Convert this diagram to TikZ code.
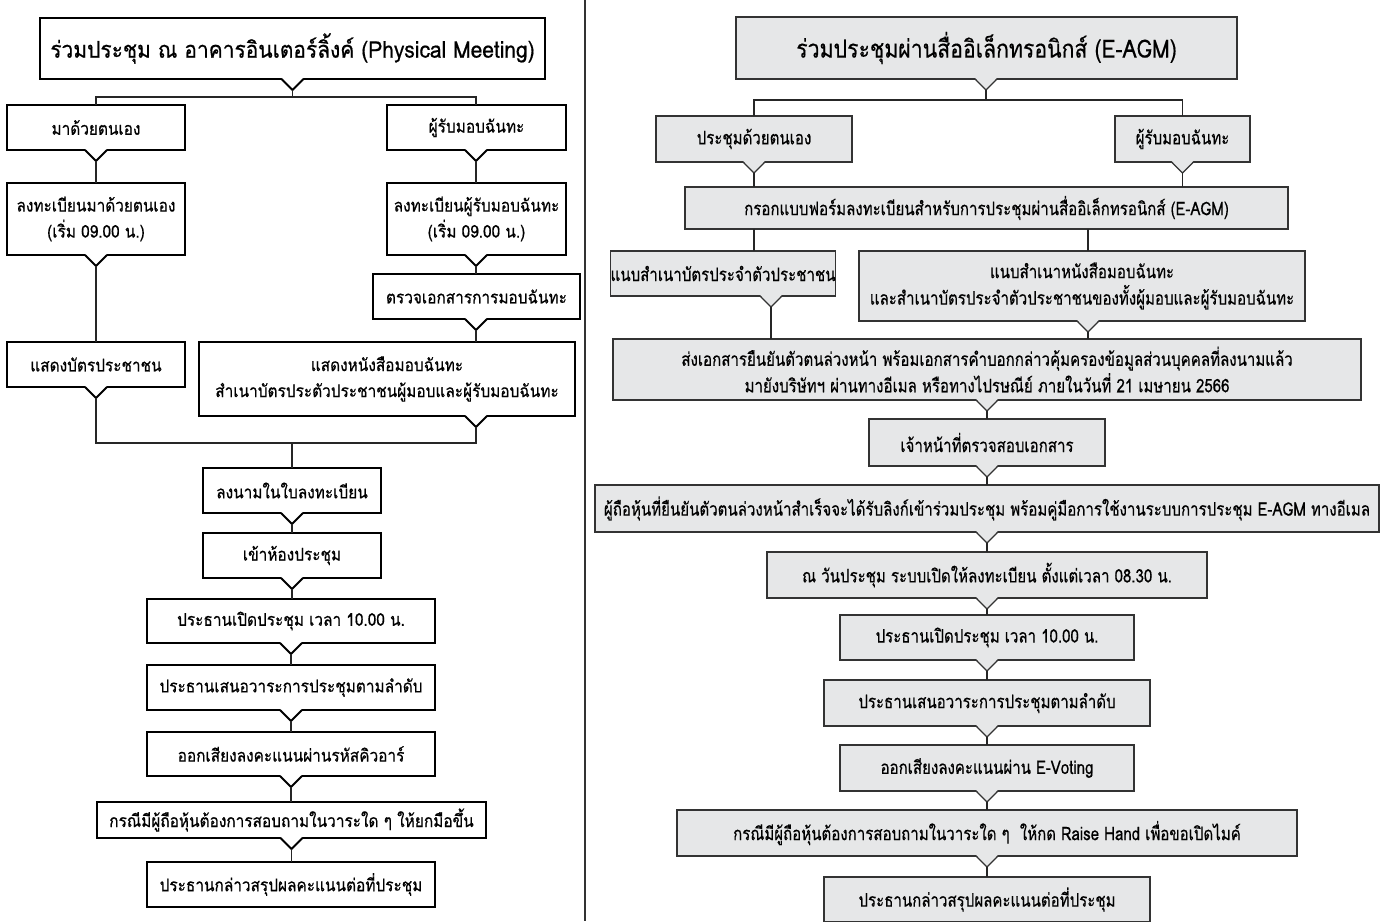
\documentclass[tikz,border=0pt]{standalone}
\usepackage{fontspec}
\newfontfamily\thaiL[Script=Thai,FakeStretch=0.88,FakeBold=0.6]{Loma}
\newfontfamily\thaiLT[Script=Thai,FakeStretch=0.91,FakeBold=0.6]{Loma}
\newfontfamily\thaiR[Script=Thai,FakeStretch=0.81,FakeBold=0.4]{Loma}
\newfontfamily\thaiRT[Script=Thai,FakeStretch=0.85,FakeBold=0.4]{Loma}
\definecolor{rfill}{HTML}{E6E7E8}
\definecolor{rline}{HTML}{333333}
\newcommand{\bx}[7]{\node[#2, minimum width={#5pt-#3pt}, minimum height={#6pt-#4pt}] (#1) at ({(#3+#5)/2},{(#4+#6)/2}) {#7};}
\newcommand{\notch}[4]{%
  \coordinate (#1-tip) at ([xshift=#2pt,yshift=-11pt]#1.south);
  \fill[#3] ([xshift=#2pt-11pt,yshift=1.2pt]#1.south) -- ([xshift=#2pt+11pt,yshift=1.2pt]#1.south) -- (#1-tip) -- cycle;
  \draw[#4] ([xshift=#2pt-11pt]#1.south) -- (#1-tip) -- ([xshift=#2pt+11pt]#1.south);}
\begin{document}
\begin{tikzpicture}[x=1pt,y=-1pt,
  lbox/.style={draw=black, fill=white, line width=1.8pt, inner sep=0pt, outer sep=0pt, align=center, font=\fontsize{17.5pt}{26pt}\selectfont\thaiL},
  ltitle/.style={lbox, font=\fontsize{23pt}{26pt}\selectfont\thaiLT},
  rbox/.style={draw=rline, fill=rfill, line width=1.3pt, inner sep=0pt, outer sep=0pt, align=center, font=\fontsize{18.6pt}{26.5pt}\selectfont\thaiR},
  rtitle/.style={rbox, font=\fontsize{25pt}{26pt}\selectfont\thaiRT},
  lnotch/.style={draw=black, line width=1.8pt, line join=miter},
  rnotch/.style={draw=rline, line width=1.3pt, line join=miter},
  lcon/.style={draw=black!85, line width=1.4pt},
  rcon/.style={draw=black!85, line width=1.8pt},
  divider/.style={draw=black!80, line width=1.4pt}]
\useasboundingbox (0,0) rectangle (1386,921);
\clip (0,0) rectangle (1386,921);
\fill[white] (0,0) rectangle (1386,921);
% divider
\coordinate (dtop) at (585,0);
\coordinate (dbot) at (585,921);
\draw[divider] (dtop) -- (dbot);

% ---------------- left column ----------------
\bx{lt}{ltitle}{40}{18}{545}{79}{ร่วมประชุม ณ อาคารอินเตอร์ลิ้งค์ (Physical Meeting)}
\bx{b1}{lbox}{7}{105}{185}{150}{มาด้วยตนเอง}
\bx{b2}{lbox}{387}{105}{566}{150}{ผู้รับมอบฉันทะ}
\bx{b3}{lbox}{7}{183}{185}{255}{ลงทะเบียนมาด้วยตนเอง\\(เริ่ม 09.00 น.)}
\bx{b4}{lbox}{387}{183}{566}{255}{ลงทะเบียนผู้รับมอบฉันทะ\\(เริ่ม 09.00 น.)}
\bx{b5}{lbox}{373}{274}{580}{319}{ตรวจเอกสารการมอบฉันทะ}
\bx{b6}{lbox}{7}{342}{185}{387}{แสดงบัตรประชาชน}
\bx{b7}{lbox}{199}{342}{575}{416}{แสดงหนังสือมอบฉันทะ\\สำเนาบัตรประตัวประชาชนผู้มอบและผู้รับมอบฉันทะ}
\bx{b8}{lbox}{203}{468}{381}{513}{ลงนามในใบลงทะเบียน}
\bx{b9}{lbox}{203}{533}{381}{578}{เข้าห้องประชุม}
\bx{b10}{lbox}{147}{599}{435}{643}{ประธานเปิดประชุม เวลา 10.00 น.}
\bx{b11}{lbox}{147}{665}{435}{710}{ประธานเสนอวาระการประชุมตามลำดับ}
\bx{b12}{lbox}{147}{732}{435}{776}{ออกเสียงลงคะแนนผ่านรหัสคิวอาร์}
\bx{b13}{lbox}{97}{802}{486}{838}{กรณีมีผู้ถือหุ้นต้องการสอบถามในวาระใด ๆ ให้ยกมือขึ้น}
\bx{b14}{lbox}{147}{862}{435}{907}{ประธานกล่าวสรุปผลคะแนนต่อที่ประชุม}

\notch{lt}{0}{white}{lnotch}
\notch{b1}{0}{white}{lnotch}
\notch{b2}{-0.5}{white}{lnotch}
\notch{b3}{0}{white}{lnotch}
\notch{b4}{-0.5}{white}{lnotch}
\notch{b5}{-0.5}{white}{lnotch}
\notch{b6}{0}{white}{lnotch}
\notch{b7}{89}{white}{lnotch}
\notch{b8}{0}{white}{lnotch}
\notch{b9}{0}{white}{lnotch}
\notch{b10}{0}{white}{lnotch}
\notch{b11}{0}{white}{lnotch}
\notch{b12}{0}{white}{lnotch}
\notch{b13}{0}{white}{lnotch}

\coordinate (jL) at (292.5,97);
\coordinate (mL) at (292,443);
\draw[lcon] (lt-tip) -- (jL);
\draw[lcon] (b1.north) |- (jL) -| (b2-tip |- b2.north);
\draw[lcon] (b1-tip) -- (b1-tip |- b3.north);
\draw[lcon] (b2-tip) -- (b2-tip |- b4.north);
\draw[lcon] (b3-tip) -- (b3-tip |- b6.north);
\draw[lcon] (b4-tip) -- (b4-tip |- b5.north);
\draw[lcon] (b5-tip) -- (b5-tip |- b7.north);
\draw[lcon] (b6-tip) |- (mL) -| (b7-tip);
\draw[lcon] (mL) -- (mL |- b8.north);
\draw[lcon] (b8-tip) -- (b8-tip |- b9.north);
\draw[lcon] (b9-tip) -- (b9-tip |- b10.north);
\draw[lcon] (b10-tip) -- (b10-tip |- b11.north);
\draw[lcon] (b11-tip) -- (b11-tip |- b12.north);
\draw[lcon] (b12-tip) -- (b12-tip |- b13.north);
\draw[lcon] (b13-tip) -- (b13-tip |- b14.north);

% ---------------- right column ----------------
\bx{rt}{rtitle}{736}{17}{1237}{79}{ร่วมประชุมผ่านสื่ออิเล็กทรอนิกส์ (E-AGM)}
\bx{r1}{rbox}{656}{116}{852}{162}{ประชุมด้วยตนเอง}
\bx{r2}{rbox}{1115}{116}{1250}{162}{ผู้รับมอบฉันทะ}
\bx{r3}{rbox}{685}{187}{1288}{229}{กรอกแบบฟอร์มลงทะเบียนสำหรับการประชุมผ่านสื่ออิเล็กทรอนิกส์ (E-AGM)}
\bx{r4}{rbox}{613}{251}{833}{296}{แนบสำเนาบัตรประจำตัวประชาชน}
\bx{r5}{rbox}{859}{251}{1305}{321}{แนบสำเนาหนังสือมอบฉันทะ\\และสำเนาบัตรประจำตัวประชาชนของทั้งผู้มอบและผู้รับมอบฉันทะ}
\bx{r6}{rbox}{613}{339}{1361}{400}{ส่งเอกสารยืนยันตัวตนล่วงหน้า พร้อมเอกสารคำบอกกล่าวคุ้มครองข้อมูลส่วนบุคคลที่ลงนามแล้ว\\มายังบริษัทฯ ผ่านทางอีเมล หรือทางไปรษณีย์ ภายในวันที่ 21 เมษายน 2566}
\bx{r7}{rbox}{869}{419}{1105}{466}{เจ้าหน้าที่ตรวจสอบเอกสาร}
\bx{r8}{rbox}{595}{485}{1379}{532}{ผู้ถือหุ้นที่ยืนยันตัวตนล่วงหน้าสำเร็จจะได้รับลิงก์เข้าร่วมประชุม พร้อมคู่มือการใช้งานระบบการประชุม E-AGM ทางอีเมล}
\bx{r9}{rbox}{767}{552}{1207}{598}{ณ วันประชุม ระบบเปิดให้ลงทะเบียน ตั้งแต่เวลา 08.30 น.}
\bx{r10}{rbox}{840}{615}{1134}{660}{ประธานเปิดประชุม เวลา 10.00 น.}
\bx{r11}{rbox}{824}{680}{1150}{726}{ประธานเสนอวาระการประชุมตามลำดับ}
\bx{r12}{rbox}{840}{745}{1134}{791}{ออกเสียงลงคะแนนผ่าน E-Voting}
\bx{r13}{rbox}{677}{810}{1297}{856}{กรณีมีผู้ถือหุ้นต้องการสอบถามในวาระใด ๆ \ ให้กด Raise Hand เพื่อขอเปิดไมค์}
\bx{r14}{rbox}{824}{877}{1150}{922}{ประธานกล่าวสรุปผลคะแนนต่อที่ประชุม}

\notch{rt}{-0.5}{rfill}{rnotch}
\notch{r1}{0}{rfill}{rnotch}
\notch{r2}{0}{rfill}{rnotch}
\notch{r4}{48}{rfill}{rnotch}
\notch{r5}{6}{rfill}{rnotch}
\notch{r6}{0}{rfill}{rnotch}
\notch{r7}{0}{rfill}{rnotch}
\notch{r8}{0}{rfill}{rnotch}
\notch{r9}{0}{rfill}{rnotch}
\notch{r10}{0}{rfill}{rnotch}
\notch{r11}{0}{rfill}{rnotch}
\notch{r12}{0}{rfill}{rnotch}
\notch{r13}{0}{rfill}{rnotch}

\coordinate (jR) at (986,100);
\draw[rcon] (rt-tip) -- (jR);
\draw[rcon] (r1.north) |- (jR) -| (r2.north);
\draw[rcon] (r1-tip) -- (r1-tip |- r3.north);
\draw[rcon] (r2-tip) -- (r2-tip |- r3.north);
\draw[rcon] (r3.south -| r1-tip) -- (r4.north -| r1-tip);
\draw[rcon] (r3.south -| r5-tip) -- (r5.north -| r5-tip);
\draw[rcon] (r4-tip) -- (r4-tip |- r6.north);
\draw[rcon] (r5-tip) -- (r5-tip |- r6.north);
\draw[rcon] (r6-tip) -- (r6-tip |- r7.north);
\draw[rcon] (r7-tip) -- (r7-tip |- r8.north);
\draw[rcon] (r8-tip) -- (r8-tip |- r9.north);
\draw[rcon] (r9-tip) -- (r9-tip |- r10.north);
\draw[rcon] (r10-tip) -- (r10-tip |- r11.north);
\draw[rcon] (r11-tip) -- (r11-tip |- r12.north);
\draw[rcon] (r12-tip) -- (r12-tip |- r13.north);
\draw[rcon] (r13-tip) -- (r13-tip |- r14.north);
\end{tikzpicture}
\end{document}
